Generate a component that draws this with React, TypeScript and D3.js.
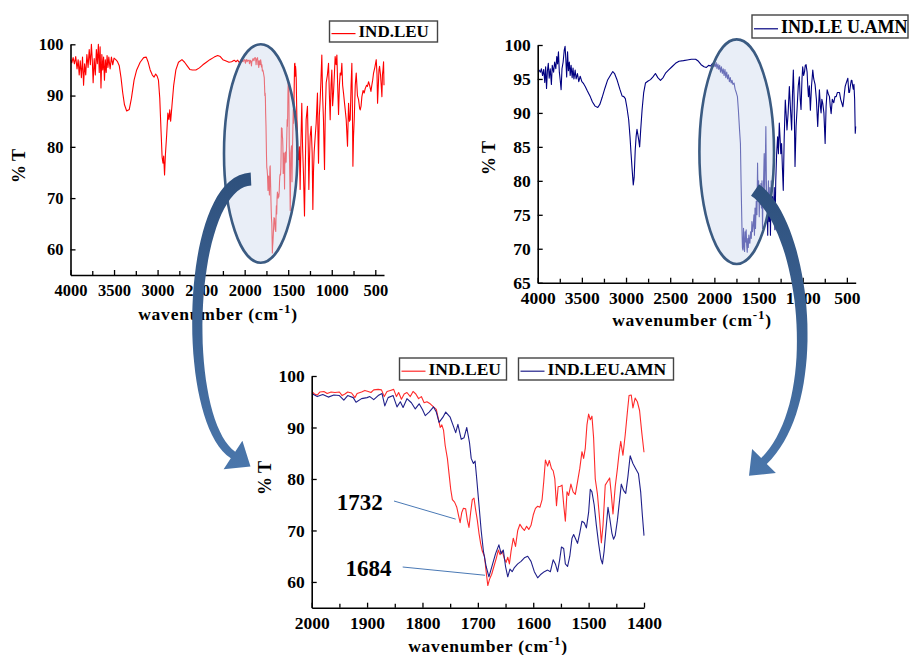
import React, { useEffect, useRef } from 'react';
import * as d3 from 'd3';

type Pt = [number, number];

// IND.LEU, 4000-2000 cm-1 (wavenumber, %T)
const leuHigh: Pt[] = [
  [4000, 97.0], [3985, 96.4], [3970, 97.4], [3955, 96.2], [3940, 97.6], [3925, 95.2], [3912, 97.0], [3900, 94.0],
  [3888, 96.8], [3875, 93.5], [3862, 97.5], [3850, 92.0], [3838, 96.2], [3825, 94.0], [3812, 98.0], [3798, 95.5],
  [3785, 99.0], [3772, 96.0], [3760, 100.0], [3750, 97.0], [3740, 92.5], [3728, 97.2], [3715, 94.0], [3703, 99.0],
  [3692, 96.2], [3680, 100.0], [3670, 94.5], [3660, 99.5], [3650, 91.5], [3640, 98.0], [3630, 95.0], [3620, 97.5],
  [3610, 93.0], [3600, 97.0], [3590, 94.5], [3580, 97.8], [3570, 95.5], [3560, 97.5], [3545, 95.2], [3530, 97.5],
  [3515, 96.0], [3500, 97.3], [3480, 97.0], [3460, 96.6], [3440, 95.8], [3420, 93.5], [3400, 90.5], [3380, 88.2],
  [3355, 87.0], [3325, 87.3], [3300, 89.5], [3270, 93.0], [3240, 95.0], [3200, 96.5], [3160, 97.4], [3130, 97.5],
  [3110, 96.6], [3085, 95.0], [3060, 94.0], [3040, 93.6], [3022, 94.2], [3005, 93.8], [2990, 93.0], [2975, 89.5],
  [2960, 83.0], [2948, 78.0], [2938, 76.8], [2930, 78.2], [2920, 74.5], [2910, 78.5], [2895, 82.5], [2882, 86.6],
  [2870, 85.3], [2860, 87.2], [2850, 85.0], [2835, 88.0], [2815, 92.0], [2790, 95.0], [2760, 96.5], [2720, 97.0],
  [2690, 96.5], [2660, 95.8], [2630, 95.1], [2600, 95.0], [2560, 95.0], [2520, 95.4], [2480, 96.0], [2440, 96.5],
  [2400, 97.0], [2350, 97.5], [2310, 97.8], [2280, 97.6], [2250, 97.0], [2220, 96.8], [2180, 96.5], [2150, 96.6],
  [2120, 96.9], [2100, 96.6], [2080, 96.9], [2060, 96.4], [2040, 97.0], [2020, 96.6], [2008, 96.9],
];

// IND.LEU, 2000-1400 cm-1 (the zoomed region)
const leuZoom: Pt[] = [
  [2000, 97.0], [1995, 96.5], [1990, 96.3], [1985, 96.9], [1978, 97.0], [1972, 96.6], [1965, 96.9], [1958, 96.8],
  [1950, 96.9], [1945, 96.2], [1940, 96.5], [1935, 96.9], [1928, 96.7], [1922, 95.8], [1918, 96.6], [1910, 96.9],
  [1904, 97.2], [1898, 97.0], [1893, 96.8], [1888, 97.3], [1880, 97.4], [1874, 97.3], [1869, 96.0], [1864, 97.0],
  [1858, 97.2], [1852, 97.4], [1847, 96.0], [1843, 96.8], [1838, 95.5], [1833, 96.5], [1828, 96.8], [1822, 96.0],
  [1817, 97.0], [1812, 96.5], [1807, 95.6], [1802, 96.0], [1797, 94.8], [1792, 95.0], [1786, 94.6], [1780, 94.0],
  [1775, 93.5], [1772, 92.0], [1768, 90.0], [1765, 90.5], [1762, 89.5], [1759, 86.5], [1755, 84.0], [1752, 81.0],
  [1749, 78.0], [1746, 76.0], [1742, 75.5], [1738, 74.5], [1735, 73.0], [1732, 71.5], [1729, 73.5], [1726, 74.3],
  [1722, 74.2], [1719, 72.0], [1716, 70.6], [1713, 73.5], [1710, 76.0], [1707, 76.3], [1704, 74.0], [1701, 72.0],
  [1698, 69.5], [1695, 67.5], [1692, 66.0], [1688, 65.0], [1685, 62.0], [1682, 59.3], [1679, 60.5], [1675, 61.5],
  [1671, 63.0], [1667, 64.5], [1663, 66.2], [1660, 65.3], [1656, 66.0], [1652, 64.5], [1649, 63.8], [1646, 64.8],
  [1643, 63.5], [1640, 66.0], [1636, 68.5], [1632, 66.9], [1628, 70.0], [1624, 71.2], [1620, 70.5], [1616, 70.0],
  [1612, 70.8], [1608, 70.2], [1604, 71.0], [1600, 73.0], [1596, 74.3], [1592, 74.7], [1588, 74.5], [1584, 76.0],
  [1581, 79.5], [1578, 83.7], [1574, 82.5], [1571, 83.6], [1567, 82.0], [1564, 81.6], [1561, 80.0], [1558, 74.8],
  [1555, 78.5], [1551, 78.6], [1548, 78.8], [1545, 75.0], [1542, 71.8], [1539, 77.5], [1536, 76.8], [1532, 79.0],
  [1528, 77.5], [1524, 77.0], [1520, 79.5], [1516, 82.0], [1512, 85.3], [1509, 84.0], [1506, 86.0], [1503, 90.5],
  [1500, 92.6], [1497, 91.5], [1494, 92.2], [1491, 88.0], [1488, 80.0], [1484, 77.0], [1480, 72.0], [1477, 67.6],
  [1474, 71.0], [1470, 78.8], [1466, 79.5], [1462, 80.2], [1459, 77.0], [1456, 73.2], [1452, 78.5], [1448, 82.0],
  [1445, 85.0], [1442, 87.3], [1438, 84.6], [1434, 88.5], [1430, 93.0], [1427, 96.2], [1423, 96.3], [1420, 93.8],
  [1416, 95.7], [1412, 95.0], [1408, 93.3], [1404, 89.0], [1400, 85.2],
];

// IND.LEU, 1400-400 cm-1
const leuLow: Pt[] = [
  [1396, 83], [1390, 78], [1382, 77.5], [1372, 80], [1363, 71.7], [1355, 80], [1344, 88.5], [1335, 80],
  [1325, 74.9], [1313, 66.5], [1305, 75], [1294, 85.3], [1279, 87.9], [1270, 80], [1263, 71.7], [1255, 78],
  [1248, 82], [1236, 84], [1225, 78.8], [1217, 67.8], [1210, 75], [1202, 79], [1190, 82], [1179, 84.6],
  [1164, 90.5], [1158, 82], [1152, 76.8], [1143, 86], [1133, 89.2], [1124, 93], [1114, 97.9], [1105, 90],
  [1095, 85.3], [1089, 80], [1083, 75.6], [1075, 86], [1064, 92.5], [1050, 94], [1037, 96.3], [1027, 90],
  [1018, 85.3], [1008, 92], [999, 95], [990, 88], [980, 90.5], [970, 94], [961, 97.6], [950, 96],
  [941, 97.9], [932, 92], [922, 86.3], [912, 92], [903, 94.4], [893, 94], [884, 96.3], [875, 92],
  [865, 90.5], [850, 88], [834, 85.3], [819, 80.1], [807, 88.5], [797, 85], [788, 85.3], [778, 92],
  [769, 96.3], [763, 88], [757, 76.2], [750, 82], [742, 85.3], [730, 92], [719, 94.4], [705, 90],
  [692, 89.2], [680, 87.5], [673, 87.2], [663, 88], [654, 89.8], [640, 91], [628, 90.5], [615, 91.4],
  [600, 92], [590, 91.8], [577, 92.7], [565, 92], [550, 90.8], [540, 92], [530, 93], [520, 94.4],
  [505, 95.5], [489, 97], [480, 94], [474, 88.5], [465, 92], [458, 95], [451, 95.7], [440, 94],
  [432, 92], [424, 89.8], [418, 94], [412, 95], [405, 96.6], [400, 92],
];

// IND.LEU.AMN, 4000-2000 cm-1
const amnHigh: Pt[] = [
  [4000, 96.1], [3985, 96.3], [3970, 96.0], [3958, 96.5], [3945, 95.5], [3932, 96.4], [3920, 94.5], [3910, 96.8],
  [3900, 93.6], [3890, 96.2], [3880, 97.3], [3870, 95.1], [3858, 96.5], [3845, 94.2], [3835, 97.0], [3820, 96.0],
  [3808, 97.5], [3795, 96.5], [3784, 98.3], [3775, 97.2], [3765, 99.0], [3755, 96.0], [3745, 94.8], [3735, 93.4],
  [3725, 96.5], [3712, 97.5], [3700, 99.2], [3690, 99.8], [3682, 98.0], [3672, 95.3], [3662, 99.0], [3652, 96.2],
  [3642, 97.5], [3632, 95.5], [3622, 97.0], [3610, 95.2], [3600, 96.6], [3590, 95.0], [3576, 96.3], [3565, 95.0],
  [3550, 95.8], [3535, 94.6], [3519, 95.4], [3500, 94.6], [3480, 94.3], [3462, 93.9], [3440, 93.3], [3420, 92.8],
  [3405, 92.4], [3380, 91.6], [3350, 91.0], [3320, 90.8], [3295, 91.3], [3270, 92.3], [3240, 93.6], [3210, 94.8],
  [3178, 95.5], [3150, 96.1], [3130, 95.8], [3100, 94.8], [3070, 93.5], [3045, 92.5], [3025, 92.4], [3008, 92.1],
  [2990, 90.8], [2970, 89.0], [2955, 86.5], [2943, 84.0], [2930, 81.5], [2918, 79.4], [2908, 80.5], [2896, 84.5],
  [2886, 86.5], [2876, 87.6], [2866, 86.8], [2856, 86.0], [2846, 85.0], [2834, 87.5], [2818, 90.5], [2800, 93.0],
  [2780, 94.4], [2750, 94.7], [2723, 94.9], [2695, 95.3], [2667, 95.8], [2640, 95.2], [2610, 94.8], [2580, 95.2],
  [2550, 95.9], [2520, 96.3], [2480, 96.8], [2440, 97.3], [2400, 97.6], [2350, 97.7], [2307, 97.8], [2260, 97.9],
  [2212, 97.9], [2180, 97.6], [2150, 97.1], [2117, 96.8], [2090, 96.7], [2065, 97.0], [2042, 96.9], [2020, 97.3],
  [2008, 96.8],
];

// IND.LEU.AMN, 2000-1400 cm-1 as drawn in the full-range panel
const amnMid: Pt[] = [
  [2000, 97.2], [1990, 96.8], [1980, 97.4], [1970, 96.5], [1960, 97.2], [1950, 96.4], [1940, 97.0], [1930, 96.0],
  [1920, 96.8], [1910, 95.8], [1900, 96.5], [1890, 95.5], [1880, 96.4], [1870, 95.2], [1860, 96.0], [1850, 95.0],
  [1840, 95.6], [1830, 94.6], [1820, 95.2], [1810, 94.4], [1800, 94.8], [1790, 94.2], [1777, 94.4], [1765, 93.5],
  [1752, 93.0], [1739, 92.4], [1728, 90.4], [1715, 87.5], [1705, 85.5], [1698, 80.0], [1692, 76.0], [1686, 72.0],
  [1682, 70.1], [1676, 69.8], [1670, 73.0], [1664, 70.5], [1658, 69.6], [1652, 72.5], [1646, 71.0], [1640, 72.8],
  [1634, 70.5], [1628, 69.5], [1622, 71.5], [1616, 70.2], [1610, 72.0], [1604, 71.0], [1598, 70.8], [1590, 72.5],
  [1582, 71.5], [1575, 74.0], [1568, 72.5], [1560, 73.5], [1552, 75.0], [1546, 72.0], [1540, 76.0], [1534, 73.0],
  [1526, 77.0], [1518, 75.0], [1511, 82.6], [1505, 77.0], [1499, 80.0], [1492, 74.7], [1486, 78.0], [1479, 76.5],
  [1473, 79.6], [1467, 76.0], [1461, 80.0], [1455, 73.0], [1449, 78.0], [1443, 80.0], [1436, 84.0], [1430, 78.0],
  [1424, 82.0], [1417, 88.0], [1411, 80.0], [1405, 76.0], [1400, 75.0],
];

// IND.LEU.AMN, 2000-1400 cm-1 (the zoomed region)
const amnZoom: Pt[] = [
  [2000, 96.6], [1990, 96.0], [1980, 96.4], [1970, 95.9], [1960, 96.3], [1950, 96.2], [1942, 95.3], [1935, 96.2],
  [1925, 95.8], [1920, 94.9], [1910, 95.6], [1900, 95.8], [1895, 96.0], [1888, 95.4], [1880, 96.2], [1873, 96.6],
  [1868, 94.2], [1862, 95.8], [1853, 96.2], [1846, 94.0], [1840, 95.0], [1835, 93.9], [1828, 95.6], [1820, 94.8],
  [1813, 93.6], [1806, 94.6], [1800, 93.5], [1795, 92.3], [1788, 93.0], [1780, 94.0], [1775, 93.0], [1770, 91.0],
  [1763, 92.0], [1758, 93.0], [1750, 92.0], [1745, 90.5], [1740, 89.0], [1736, 90.6], [1730, 87.7], [1725, 88.0],
  [1720, 90.0], [1715, 87.0], [1712, 84.0], [1708, 83.0], [1705, 83.5], [1702, 80.0], [1698, 75.0], [1694, 70.0],
  [1690, 66.0], [1685, 63.0], [1680, 61.0], [1676, 62.5], [1672, 64.0], [1668, 65.5], [1662, 67.2], [1658, 65.5],
  [1654, 66.2], [1650, 63.0], [1646, 61.0], [1642, 62.5], [1638, 62.0], [1634, 62.8], [1628, 63.5], [1622, 64.0],
  [1616, 64.7], [1610, 65.0], [1604, 64.0], [1598, 62.0], [1592, 60.8], [1586, 61.5], [1580, 62.0], [1574, 62.3],
  [1569, 62.0], [1564, 64.3], [1560, 63.5], [1556, 62.0], [1552, 64.5], [1549, 66.8], [1545, 66.5], [1542, 63.5],
  [1538, 63.0], [1534, 65.0], [1530, 68.5], [1527, 69.2], [1524, 68.5], [1520, 67.5], [1516, 69.5], [1512, 71.8],
  [1508, 71.5], [1504, 70.5], [1500, 73.5], [1497, 78.0], [1494, 77.5], [1490, 75.0], [1486, 71.0], [1482, 67.5],
  [1478, 64.5], [1475, 63.5], [1472, 66.0], [1468, 71.0], [1465, 74.5], [1462, 72.5], [1458, 69.5], [1455, 68.3],
  [1452, 69.0], [1448, 72.0], [1444, 76.0], [1441, 79.0], [1437, 77.8], [1433, 77.2], [1429, 80.5], [1425, 84.5],
  [1420, 83.0], [1415, 82.0], [1410, 81.0], [1406, 77.5], [1403, 73.0], [1400, 69.0],
];

// IND.LEU.AMN, 1400-400 cm-1
const amnLow: Pt[] = [
  [1396, 72], [1388, 80], [1380, 74], [1372, 79], [1365, 72], [1357, 80], [1349, 75], [1341, 77.7],
  [1330, 75], [1322, 79], [1314, 72.8], [1305, 80], [1295, 84], [1284, 86.5], [1275, 84], [1265, 88.5],
  [1255, 86], [1248, 84], [1239, 85.5], [1230, 82], [1220, 78.6], [1210, 86], [1197, 91.9], [1188, 90],
  [1178, 87.5], [1165, 90], [1151, 93.9], [1140, 91], [1125, 87.5], [1115, 93], [1106, 96.3], [1097, 92],
  [1087, 82.1], [1075, 88], [1064, 90.5], [1050, 94], [1038, 95.3], [1028, 92], [1019, 90.5], [1008, 95],
  [1000, 96.8], [990, 95.5], [980, 96], [971, 97], [962, 97.1], [950, 96], [943, 94], [935, 92.4],
  [925, 94], [913, 90.4], [900, 94], [886, 96.3], [875, 95], [860, 94.2], [845, 92], [830, 88],
  [820, 91], [811, 93.4], [800, 91], [792, 90], [783, 92], [773, 91.4], [760, 90], [746, 85.5],
  [735, 91], [723, 93.4], [710, 92.8], [697, 92.4], [688, 91], [678, 89.9], [665, 92], [648, 91.5],
  [635, 92.4], [621, 92.4], [608, 93], [595, 93], [583, 93], [570, 92], [558, 91.5], [545, 90.9],
  [535, 92], [527, 93], [519, 93.9], [505, 94.5], [489, 95.1], [478, 93], [470, 93], [460, 94],
  [450, 94.8], [443, 94.8], [435, 94], [428, 93.5], [420, 94.2], [412, 92], [405, 87], [400, 88],
];

const leuFull = [...leuHigh, ...leuZoom, ...leuLow];
const amnFull = [...amnHigh, ...amnMid, ...amnLow];

const fullTicksX = [4000, 3500, 3000, 2500, 2000, 1500, 1000, 500];
const fullMinorX = [3750, 3250, 2750, 2250, 1750, 1250, 750];
const leuTicksY = [60, 70, 80, 90, 100];
const amnTicksY = [65, 70, 75, 80, 85, 90, 95, 100];
const zoomTicksX = [2000, 1900, 1800, 1700, 1600, 1500, 1400];
const zoomMinorX = [1950, 1850, 1750, 1650, 1550, 1450];
const zoomTicksY = [60, 70, 80, 90, 100];

const seriesNames = ['IND.LEU', 'IND.LEU.AMN'];
const peakLabels = [
  { label: '1732', wn: 1740, t: 72.2 },
  { label: '1684', wn: 1687, t: 61.3 },
];

const FONT = "'Liberation Serif', 'Times New Roman', Times, serif";

function arrowPath(p0: Pt, p1: Pt, p2: Pt, p3: Pt, w0: number, w1: number, headW: number, headL: number) {
  const n = 40;
  const left: Pt[] = [];
  const right: Pt[] = [];
  for (let i = 0; i <= n; i++) {
    const t = i / n, mt = 1 - t;
    const px = mt * mt * mt * p0[0] + 3 * mt * mt * t * p1[0] + 3 * mt * t * t * p2[0] + t * t * t * p3[0];
    const py = mt * mt * mt * p0[1] + 3 * mt * mt * t * p1[1] + 3 * mt * t * t * p2[1] + t * t * t * p3[1];
    const dx = 3 * mt * mt * (p1[0] - p0[0]) + 6 * mt * t * (p2[0] - p1[0]) + 3 * t * t * (p3[0] - p2[0]);
    const dy = 3 * mt * mt * (p1[1] - p0[1]) + 6 * mt * t * (p2[1] - p1[1]) + 3 * t * t * (p3[1] - p2[1]);
    const len = Math.hypot(dx, dy) || 1;
    const nx = -dy / len, ny = dx / len;
    const w = (w0 + (w1 - w0) * t) / 2;
    left.push([px + nx * w, py + ny * w]);
    right.push([px - nx * w, py - ny * w]);
  }
  const ex = p3[0] - p2[0], ey = p3[1] - p2[1];
  const el = Math.hypot(ex, ey);
  const ux = ex / el, uy = ey / el;
  const nx = -uy, ny = ux;
  const tip: Pt = [p3[0] + ux * headL, p3[1] + uy * headL];
  const hl: Pt = [p3[0] + nx * headW, p3[1] + ny * headW];
  const hr: Pt = [p3[0] - nx * headW, p3[1] - ny * headW];
  const pts = [...left, hl, tip, hr, ...right.reverse()];
  return 'M' + pts.map(p => `${p[0].toFixed(1)},${p[1].toFixed(1)}`).join('L') + 'Z';
}

export default function App() {
  const svgRef = useRef<SVGSVGElement>(null);

  useEffect(() => {
    if (!svgRef.current) return;
    const svg = d3.select(svgRef.current);
    svg.selectAll('*').remove();

    const defs = svg.append('defs');
    const grad = defs.append('linearGradient')
      .attr('id', 'arrowGrad')
      .attr('x1', 0).attr('y1', 0).attr('x2', 0).attr('y2', 1);
    grad.append('stop').attr('offset', '0%').attr('stop-color', '#2e507c');
    grad.append('stop').attr('offset', '100%').attr('stop-color', '#4a76ab');

    const panels = [
      {
        xDomain: [4000, 400], xRange: [70.5, 384], yDomain: [55, 100], yRange: [275, 44.3],
        xMajor: fullTicksX, xMinor: fullMinorX, yMajor: leuTicksY,
        series: [{ data: leuFull, color: '#ff0000' }],
        fs: 16.5, xTitle: [218, 320], yTitle: [19, 166],
      },
      {
        xDomain: [4000, 400], xRange: [537.7, 855.7], yDomain: [65, 100], yRange: [282.7, 45],
        xMajor: fullTicksX, xMinor: fullMinorX, yMajor: amnTicksY,
        series: [{ data: amnFull, color: '#000080' }],
        fs: 17.5, xTitle: [692, 326], yTitle: [489, 158],
      },
      {
        xDomain: [2000, 1400], xRange: [311.7, 644], yDomain: [55, 100], yRange: [607.7, 376],
        xMajor: zoomTicksX, xMinor: zoomMinorX, yMajor: zoomTicksY,
        series: [{ data: leuZoom, color: '#ff2a2a' }, { data: amnZoom, color: '#20208a' }],
        fs: 17.5, xTitle: [488, 652], yTitle: [265, 478],
      },
    ];

    const scales: any[] = [];

    panels.forEach((p, pi) => {
      const x = d3.scaleLinear().domain(p.xDomain).range(p.xRange);
      const y = d3.scaleLinear().domain(p.yDomain).range(p.yRange);
      scales.push({ x, y });
      const line = d3.line<Pt>().x(d => x(d[0])).y(d => y(d[1]));

      defs.append('clipPath').attr('id', `clip${pi}`)
        .append('rect')
        .attr('x', p.xRange[0]).attr('y', p.yRange[1] - 3)
        .attr('width', p.xRange[1] - p.xRange[0] + 2)
        .attr('height', p.yRange[0] - p.yRange[1] + 3);

      const plot = svg.append('g').attr('clip-path', `url(#clip${pi})`);
      p.series.forEach(s => {
        plot.append('path')
          .datum(s.data)
          .attr('fill', 'none')
          .attr('stroke', s.color)
          .attr('stroke-width', 1.1)
          .attr('stroke-linejoin', 'round')
          .attr('d', line);
      });

      const y0 = p.yRange[0];
      const x0 = p.xRange[0];

      // minor x ticks
      svg.append('g')
        .attr('transform', `translate(0,${y0})`)
        .call(d3.axisBottom(x).tickValues(p.xMinor).tickSize(-4).tickSizeOuter(0).tickFormat(() => ''))
        .call(g => g.select('.domain').remove())
        .call(g => g.selectAll('line').attr('stroke', '#000').attr('stroke-width', 1.3));

      const gx = svg.append('g')
        .attr('transform', `translate(0,${y0})`)
        .call(d3.axisBottom(x).tickValues(p.xMajor).tickSize(-5).tickSizeOuter(0).tickPadding(9).tickFormat(d3.format('d')));
      gx.select('.domain').attr('stroke', '#000').attr('stroke-width', 1.6);
      gx.selectAll('line').attr('stroke', '#000').attr('stroke-width', 1.3);
      gx.selectAll('text')
        .attr('fill', '#000')
        .style('font-family', FONT).style('font-size', `${p.fs}px`).style('font-weight', 'bold');

      const gy = svg.append('g')
        .attr('transform', `translate(${x0},0)`)
        .call(d3.axisLeft(y).tickValues(p.yMajor).tickSize(-5).tickSizeOuter(0).tickPadding(7));
      gy.select('.domain').attr('stroke', '#000').attr('stroke-width', 1.6);
      gy.selectAll('line').attr('stroke', '#000').attr('stroke-width', 1.3);
      gy.selectAll('text')
        .attr('fill', '#000')
        .style('font-family', FONT).style('font-size', `${p.fs}px`).style('font-weight', 'bold');

      const xt = svg.append('text')
        .attr('x', p.xTitle[0]).attr('y', p.xTitle[1])
        .attr('text-anchor', 'middle')
        .style('font-family', FONT).style('font-size', '17.5px').style('font-weight', 'bold')
        .attr('letter-spacing', 0.8)
        .attr('fill', '#000');
      xt.append('tspan').text('wavenumber (cm');
      xt.append('tspan').attr('dy', -7).style('font-size', '13px').text('-1');
      xt.append('tspan').attr('dy', 7).text(')');

      svg.append('text')
        .attr('transform', `translate(${p.yTitle[0]},${p.yTitle[1]}) rotate(-90)`)
        .attr('text-anchor', 'middle')
        .attr('dominant-baseline', 'central')
        .style('font-family', FONT).style('font-size', '18px').style('font-weight', 'bold')
        .attr('fill', '#000')
        .text('% T');
    });

    // peak call-outs on the zoom panel
    const zs = scales[2];
    const calloutText = [[336.7, 509.5], [345.5, 575.5]];
    const calloutStart = [[394, 501], [402.7, 567]];
    peakLabels.forEach((pk, i) => {
      svg.append('line')
        .attr('x1', calloutStart[i][0]).attr('y1', calloutStart[i][1])
        .attr('x2', zs.x(pk.wn)).attr('y2', zs.y(pk.t))
        .attr('stroke', '#4a79b5').attr('stroke-width', 1);
      svg.append('text')
        .attr('x', calloutText[i][0]).attr('y', calloutText[i][1])
        .style('font-family', FONT).style('font-size', '23px').style('font-weight', 'bold')
        .attr('fill', '#000')
        .text(pk.label);
    });

    // highlight ellipses
    [[260.7, 153.5, 36.7, 109.2], [736.7, 151.7, 37.3, 112.3]].forEach(e => {
      svg.append('ellipse')
        .attr('cx', e[0]).attr('cy', e[1]).attr('rx', e[2]).attr('ry', e[3])
        .attr('fill', '#d4def0').attr('fill-opacity', 0.5)
        .attr('stroke', '#3b5b82').attr('stroke-width', 2.6);
    });

    // legends
    const legends = [
      { x: 329.5, y: 21, w: 108, h: 21, color: '#ff0000', label: seriesNames[0], fs: 17 },
      { x: 752, y: 15, w: 156, h: 23, color: '#000080', label: 'IND.LE U.AMN', fs: 18 },
      { x: 399.5, y: 358, w: 107, h: 22, color: '#ff2a2a', label: seriesNames[0], fs: 17.5 },
      { x: 518.5, y: 358, w: 155, h: 22, color: '#20208a', label: seriesNames[1], fs: 17.5 },
    ];
    legends.forEach(l => {
      const g = svg.append('g');
      g.append('rect')
        .attr('x', l.x).attr('y', l.y).attr('width', l.w).attr('height', l.h)
        .attr('fill', '#fff').attr('stroke', '#444').attr('stroke-width', 1.4);
      g.append('line')
        .attr('x1', l.x + 2).attr('x2', l.x + 26)
        .attr('y1', l.y + l.h * 0.6).attr('y2', l.y + l.h * 0.6)
        .attr('stroke', l.color).attr('stroke-width', 1.2);
      g.append('text')
        .attr('x', l.x + 29).attr('y', l.y + l.h - 5)
        .style('font-family', FONT).style('font-size', `${l.fs}px`).style('font-weight', 'bold')
        .attr('fill', '#000')
        .text(l.label);
    });

    // curved arrows from the top panels to the zoom panel
    svg.append('path')
      .attr('d', arrowPath([251, 179], [186, 182], [180, 420], [233, 455], 13, 8, 17, 21))
      .attr('fill', 'url(#arrowGrad)');
    svg.append('path')
      .attr('d', arrowPath([755, 190], [805, 225], [826, 400], [764, 461], 14, 8, 17, 21))
      .attr('fill', 'url(#arrowGrad)');
  }, []);

  return (
    <svg
      ref={svgRef}
      width={909}
      height={655}
      style={{ position: 'absolute', left: 0, top: 0, background: '#fff' }}
    />
  );
}
